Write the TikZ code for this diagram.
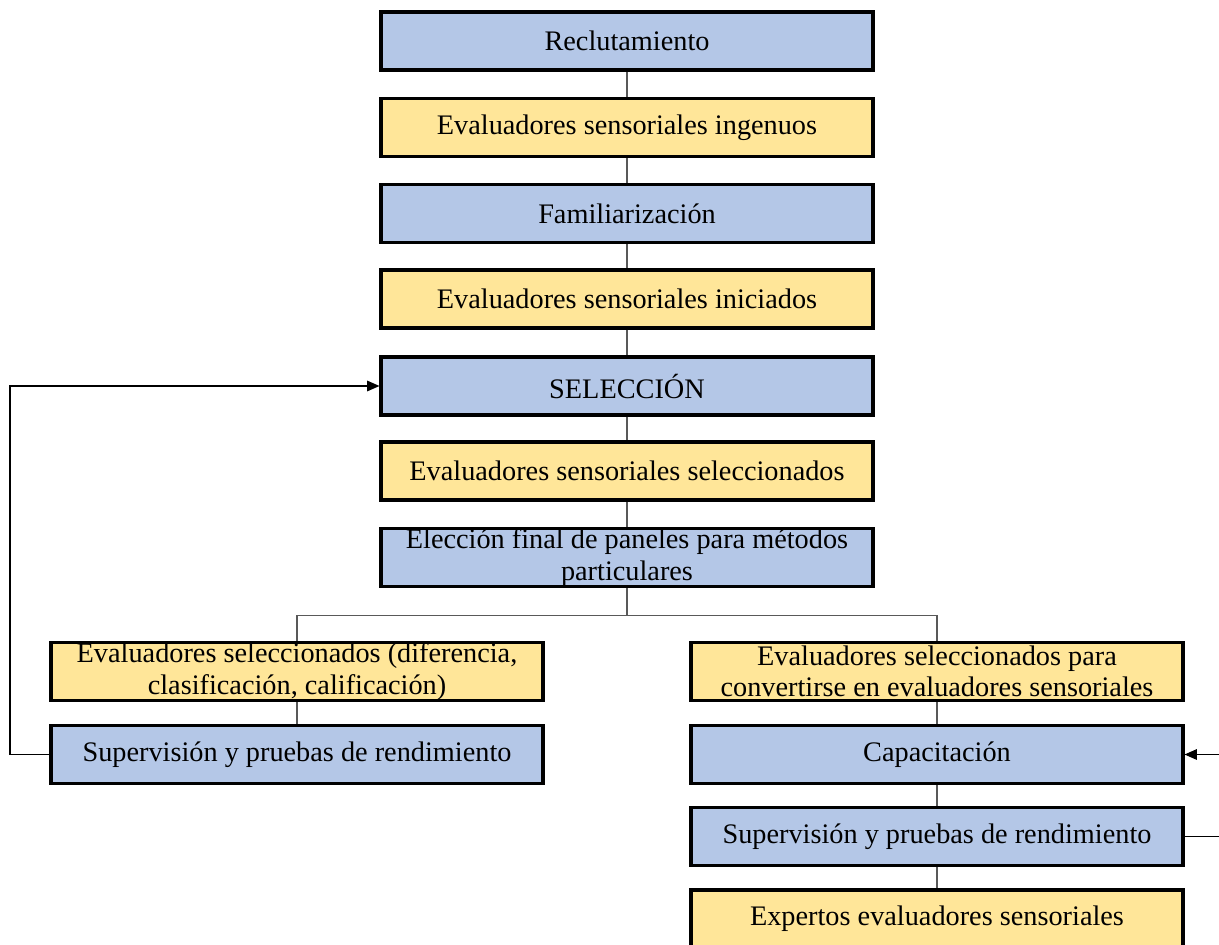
\documentclass[tikz,border=0pt]{standalone}
\usepackage{fontspec}
\setmainfont{Liberation Serif}
\usetikzlibrary{arrows.meta}
\definecolor{azul}{HTML}{B4C7E7}
\definecolor{amarillo}{HTML}{FFE699}
\begin{document}
\begin{tikzpicture}[x=0.02cm, y=-0.02cm, line join=miter, >={Triangle[length=7pt,width=6pt]}, font=\fontsize{16.1}{18}\selectfont]
	\tikzset{caja/.style={draw=black, line width=1.8pt, minimum width=9.84cm, minimum height=1.16cm, inner sep=0pt, align=center},
		etapa/.style={caja, fill=azul},
		grupo/.style={caja, fill=amarillo},
		linea/.style={draw=black!65, line width=0.6pt}}
	\useasboundingbox (0,0) rectangle (1219,945);
	%Columna central
	\node[etapa] (recl) at (627,41) {Reclutamiento};
	\node[grupo] (ingen) at (627,127.5) {Evaluadores sensoriales ingenuos};
	\node[etapa] (famil) at (627,213.5) {Familiarización};
	\node[grupo] (inic) at (627,299) {Evaluadores sensoriales iniciados};
	\node[etapa] (sel) at (627,386) {SELECCIÓN};
	\node[grupo] (selec) at (627,471) {Evaluadores sensoriales seleccionados};
	\node[etapa] (elec) at (627,557.5) {Elección final de paneles para métodos\\particulares};
	%Rama izquierda
	\node[grupo] (difer) at (297,671.5) {Evaluadores seleccionados (diferencia,\\clasificación, calificación)};
	\node[etapa] (superA) at (297,754.5) {Supervisión y pruebas de rendimiento};
	%Rama derecha
	\node[grupo] (conv) at (937,671.5) {Evaluadores seleccionados para\\convertirse en evaluadores sensoriales};
	\node[etapa] (capac) at (937,754.5) {Capacitación};
	\node[etapa] (superB) at (937,836.5) {Supervisión y pruebas de rendimiento};
	\node[grupo] (exper) at (937,919) {Expertos evaluadores sensoriales};
	%Conectores
	\draw[linea] (recl)--(ingen) (ingen)--(famil) (famil)--(inic) (inic)--(sel) (sel)--(selec) (selec)--(elec);
	\draw[linea] (elec.south)--++(0,27) coordinate (rama);
	\draw[linea] (difer.north)|-(rama)-|(conv.north);
	\draw[linea] (difer)--(superA) (conv)--(capac) (capac)--(superB) (superB)--(exper);
	%Retroalimentacion
	\draw[->, line width=0.7pt] (superA.west)--(10,754.5)|-(sel.west);
	\draw[->, line width=0.7pt] (superB.east)--++(60,0)|-(capac.east);
\end{tikzpicture}
\end{document}
